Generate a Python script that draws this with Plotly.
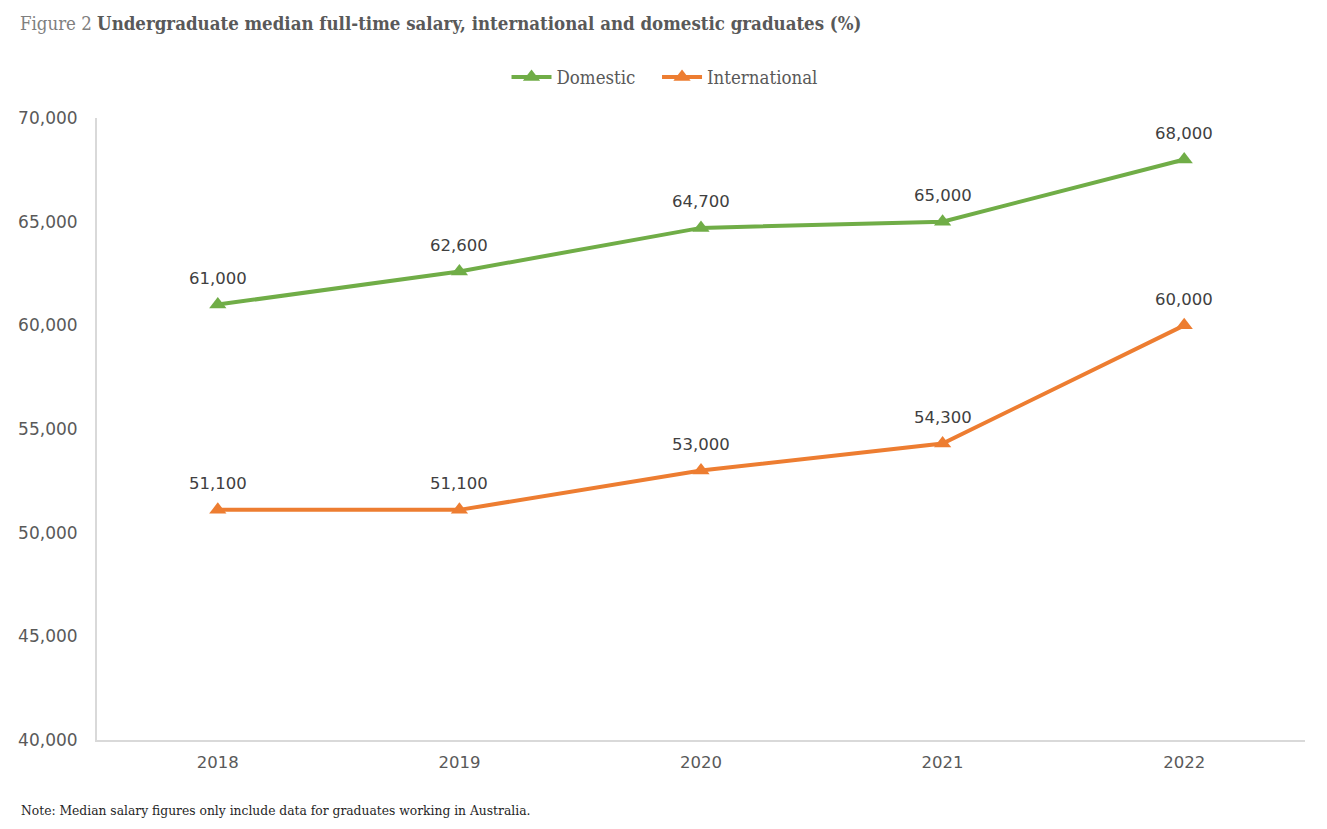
import plotly.graph_objects as go

years = ["2018", "2019", "2020", "2021", "2022"]
domestic = [61000, 62600, 64700, 65000, 68000]
international = [51100, 51100, 53000, 54300, 60000]
y_ticks = [40000, 45000, 50000, 55000, 60000, 65000, 70000]

GREEN = "#70AD47"
ORANGE = "#ED7D31"
TXT = "#595959"
FONT = "DejaVu Sans, sans-serif"
SERIF = "DejaVu Serif Condensed, DejaVu Serif, serif"

fig = go.Figure()
for name, vals, col, lg in [("Domestic", domestic, GREEN, "legend"),
                            ("International", international, ORANGE, "legend2")]:
    fig.add_trace(go.Scatter(
        x=years, y=vals, name=name, mode="lines+markers",
        line=dict(color=col, width=4),
        marker=dict(symbol="triangle-up", size=15, color=col),
        cliponaxis=False, legend=lg,
    ))
    for i, v in enumerate(vals):
        fig.add_annotation(
            x=i, y=v, text=f"{v:,}", showarrow=False, yshift=26,
            font=dict(size=16.5, color="#404040", family=FONT),
        )

leg_common = dict(orientation="h", y=1.065, yanchor="middle", xanchor="left",
                  font=dict(size=18.5, color=TXT, family=SERIF), itemwidth=40,
                  bgcolor="rgba(0,0,0,0)")

fig.update_layout(
    width=1327, height=829,
    margin=dict(l=97, r=22, t=118, b=89),
    plot_bgcolor="white", paper_bgcolor="white",
    font=dict(family=FONT, size=16, color=TXT),
    title=dict(
        text="<span style='color:#7f7f7f'>Figure 2</span> <b>Undergraduate median full-time salary, international and domestic graduates (%)</b>",
        x=0.015, xanchor="left", y=0.972, yanchor="middle",
        font=dict(family=SERIF, size=18.5, color=TXT),
    ),
    legend=dict(x=0.339, **leg_common),
    legend2=dict(x=0.4636, **leg_common),
    showlegend=True,
)
fig.update_xaxes(
    type="category", range=[-0.5, 4.5], showgrid=False, showline=True,
    linecolor="#d9d9d9", linewidth=2, ticks="", ticklabelstandoff=6,
    tickfont=dict(size=16.5, color=TXT), zeroline=False,
)
fig.update_yaxes(
    range=[40000, 70000], tickvals=y_ticks, ticktext=[f"{v:,}" for v in y_ticks],
    showgrid=False, showline=True, linecolor="#d9d9d9", linewidth=2, ticks="",
    ticklabelstandoff=14, tickfont=dict(size=17, color=TXT), zeroline=False,
)
fig.add_annotation(
    text="Note: Median salary figures only include data for graduates working in Australia.",
    xref="paper", yref="paper", x=-0.0645, y=-0.113, xanchor="left", yanchor="middle",
    showarrow=False,
    font=dict(family=SERIF, size=13.7, color="#262626"),
)
fig.write_html("out.html")
